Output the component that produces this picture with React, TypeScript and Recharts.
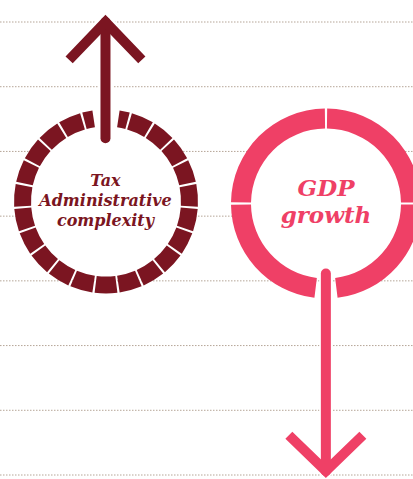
import { LineChart, Line, XAxis, YAxis, ReferenceLine, PieChart, Pie, Cell } from 'recharts';

// dotted guide levels, bottom (0) to top (7)
const gridLevels = [0, 1, 2, 3, 4, 5, 6, 7];

// angular size (deg) of each ring piece, clockwise from the gap
const taxRingSegments = [
  6.45, 14.25, 14.25, 14.25, 14.25, 14.25, 14.25, 14.25, 14.25, 14.25, 14.25, 14.25,
  14.25, 14.25, 14.25, 14.25, 14.25, 14.25, 14.25, 14.25, 14.25, 14.25, 6.45,
];
const gdpRingSegments = [82.3, 88.6, 88.6, 82.3];

// arrows: x in % of width, y in grid levels
const taxArrowShaft = [
  { x: 25.54, y: 7.06 },
  { x: 25.54, y: 5.25 },
];
const taxArrowHead = [
  { x: 16.74, y: 6.47 },
  { x: 25.54, y: 7.06 },
  { x: 34.34, y: 6.47 },
];
const gdpArrowShaft = [
  { x: 78.9, y: 3.14 },
  { x: 78.9, y: 0.06 },
];
const gdpArrowHead = [
  { x: 69.94, y: 0.62 },
  { x: 78.9, y: 0.06 },
  { x: 87.86, y: 0.62 },
];

const W = 413;
const H = 479;
const TAX_RED = '#7b1521';
const GDP_PINK = '#ef4066';
const margin = { top: 22, right: 0, bottom: 4, left: 0 };

const layer: React.CSSProperties = { position: 'absolute', left: 0, top: 0 };

export default function App() {
  const taxData = taxRingSegments.map((value) => ({ value }));
  const gdpData = gdpRingSegments.map((value) => ({ value }));
  const disc = [{ value: 1 }];

  const arrowLine = (data: { x: number; y: number }[], color: string, width: number, cap: 'round' | 'butt') => (
    <Line
      data={data}
      dataKey="y"
      type="linear"
      stroke={color}
      strokeWidth={width}
      strokeLinecap={cap}
      strokeLinejoin="miter"
      dot={false}
      activeDot={false}
      isAnimationActive={false}
    />
  );

  return (
    <div style={{ position: 'absolute', left: 0, top: 0, width: W, height: H, background: '#fff', overflow: 'hidden' }}>
      <div style={layer}>
        <LineChart width={W} height={H} margin={margin}>
          <XAxis type="number" dataKey="x" domain={[0, 100]} hide />
          <YAxis type="number" dataKey="y" domain={[0, 7]} ticks={gridLevels} hide />
          {gridLevels.map((lv) => (
            <ReferenceLine key={lv} y={lv} stroke="#b5a597" strokeWidth={1} strokeDasharray="1.5 1.5" />
          ))}
          {arrowLine(gdpArrowShaft, 'none', 0, 'butt')}
        </LineChart>
      </div>

      <div style={layer}>
        <PieChart width={W} height={H} margin={{ top: 0, right: 0, bottom: 0, left: 0 }}>
          <Pie data={disc} dataKey="value" cx={106} cy={201.5} innerRadius={0} outerRadius={76} fill="#fff" stroke="none" isAnimationActive={false} />
          <Pie
            data={taxData}
            dataKey="value"
            cx={106}
            cy={201.5}
            innerRadius={75}
            outerRadius={92}
            startAngle={81.5}
            endAngle={-261.5}
            paddingAngle={1.4}
            stroke="none"
            isAnimationActive={false}
          >
            {taxData.map((_, i) => (
              <Cell key={i} fill={TAX_RED} />
            ))}
          </Pie>
          <Pie data={disc} dataKey="value" cx={326} cy={203.5} innerRadius={0} outerRadius={76} fill="#fff" stroke="none" isAnimationActive={false} />
          <Pie
            data={gdpData}
            dataKey="value"
            cx={326}
            cy={203.5}
            innerRadius={75}
            outerRadius={95}
            startAngle={-97}
            endAngle={-443}
            paddingAngle={1.4}
            stroke="none"
            isAnimationActive={false}
          >
            {gdpData.map((_, i) => (
              <Cell key={i} fill={GDP_PINK} />
            ))}
          </Pie>
        </PieChart>
      </div>

      <div style={layer}>
        <LineChart width={W} height={H} margin={margin}>
          <XAxis type="number" dataKey="x" domain={[0, 100]} hide />
          <YAxis type="number" dataKey="y" domain={[0, 7]} ticks={gridLevels} hide />
          {arrowLine(taxArrowShaft, '#fff', 15, 'round')}
          {arrowLine(taxArrowHead, '#fff', 15, 'butt')}
          {arrowLine(gdpArrowShaft, '#fff', 13, 'round')}
          {arrowLine(taxArrowShaft, TAX_RED, 10, 'round')}
          {arrowLine(taxArrowHead, TAX_RED, 10, 'butt')}
          {arrowLine(gdpArrowShaft, GDP_PINK, 10, 'round')}
          {arrowLine(gdpArrowHead, GDP_PINK, 10, 'butt')}
        </LineChart>
      </div>

      <div
        style={{
          position: 'absolute',
          left: 25.5,
          top: 171,
          width: 160,
          textAlign: 'center',
          fontFamily: '"DejaVu Serif", serif',
          fontStyle: 'italic',
          fontWeight: 700,
          fontSize: 16,
          lineHeight: '20px',
          color: TAX_RED,
        }}
      >
        Tax
        <br />
        Administrative
        <br />
        complexity
      </div>
      <div
        style={{
          position: 'absolute',
          left: 246,
          top: 173.5,
          width: 160,
          textAlign: 'center',
          fontFamily: '"DejaVu Serif", serif',
          fontStyle: 'italic',
          fontWeight: 700,
          fontSize: 23,
          lineHeight: '27px',
          color: GDP_PINK,
        }}
      >
        GDP
        <br />
        growth
      </div>
    </div>
  );
}
